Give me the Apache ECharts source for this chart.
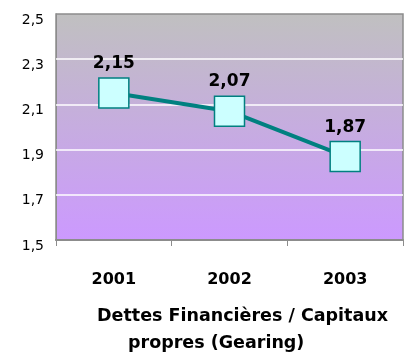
<!DOCTYPE html>
<html>
<head>
<meta charset="utf-8">
<style>
  html, body { margin: 0; padding: 0; background: #ffffff; }
  #chart { width: 404px; height: 356px; }
</style>
<script src="https://cdn.jsdelivr.net/npm/echarts@6/dist/echarts.min.js"></script>
</head>
<body>
<div id="chart"></div>
<script>
// Gearing ratio by year
const years = ['2001', '2002', '2003'];
const gearing = [2.15, 2.07, 1.87];
const yTicks = [1.5, 1.7, 1.9, 2.1, 2.3, 2.5];
const titleLines = ['Dettes Financières / Capitaux', 'propres (Gearing)'];

const fr = v => v.toFixed(v * 10 % 1 === 0 ? 1 : 2).replace('.', ',');

// inner horizontal guides (white), the outer edges are the plot border
const innerGuides = yTicks.slice(1, -1).map(v => ({ yAxis: v }));

const chart = echarts.init(document.getElementById('chart'), null, { renderer: 'canvas' });

chart.setOption({
  backgroundColor: '#ffffff',
  animation: false,
  textStyle: { fontFamily: 'DejaVu Sans' },
  grid: {
    left: 56, right: 1, top: 14, bottom: 116,
    show: true,
    borderColor: '#8c8c8c',
    borderWidth: 1.5,
    backgroundColor: new echarts.graphic.LinearGradient(0, 0, 0, 1, [
      { offset: 0, color: '#c0c0c0' },
      { offset: 1, color: '#cc99ff' }
    ])
  },
  xAxis: {
    type: 'category',
    data: years,
    boundaryGap: true,
    axisLine: { show: true, lineStyle: { color: '#8c8c8c', width: 2 } },
    axisTick: { show: true, interval: 0, length: 6, lineStyle: { color: '#8c8c8c', width: 1 } },
    axisLabel: {
      margin: 32,
      color: '#000000',
      fontFamily: 'DejaVu Sans',
      fontWeight: 'bold',
      fontSize: 16
    },
    splitLine: { show: false }
  },
  yAxis: {
    type: 'value',
    min: 1.5,
    max: 2.5,
    interval: 0.1,
    axisLine: { show: true, lineStyle: { color: '#8c8c8c', width: 1 } },
    axisTick: { show: false },
    axisLabel: {
      customValues: yTicks,
      margin: 12,
      verticalAlign: 'top',
      lineHeight: 12,
      color: '#000000',
      fontFamily: 'DejaVu Sans',
      fontSize: 14,
      formatter: v => v.toFixed(1).replace('.', ',')
    },
    splitLine: { show: false }
  },
  series: [{
    type: 'line',
    data: gearing,
    symbol: 'rect',
    symbolSize: [30, 30],
    lineStyle: { color: '#008080', width: 4 },
    itemStyle: { color: '#ccffff', borderColor: '#008080', borderWidth: 1.5 },
    label: {
      show: true,
      position: 'top',
      distance: 5,
      color: '#000000',
      fontFamily: 'DejaVu Sans',
      fontWeight: 'bold',
      fontSize: 17,
      formatter: p => fr(p.value)
    },
    markLine: {
      silent: true,
      symbol: 'none',
      label: { show: false },
      lineStyle: { color: '#ffffff', width: 1.5, type: 'solid' },
      data: innerGuides,
      z: 1
    },
    z: 3
  }],
  graphic: [
    {
      type: 'text', left: 97, top: 307,
      style: { text: titleLines[0], fill: '#000', font: 'bold 17.5px "DejaVu Sans"' }
    },
    {
      type: 'text', left: 128, top: 334,
      style: { text: titleLines[1], fill: '#000', font: 'bold 17.5px "DejaVu Sans"' }
    }
  ]
});
</script>
</body>
</html>
